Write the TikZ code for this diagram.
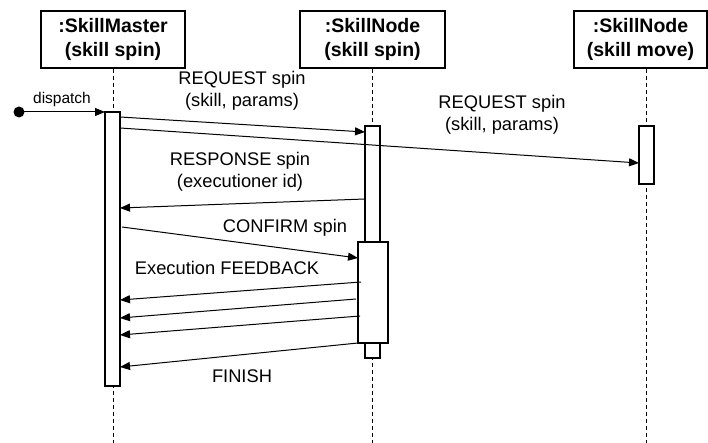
\documentclass[tikz,border=0pt]{standalone}
\usepackage{fontspec}
\setmainfont{Liberation Sans}
\usetikzlibrary{arrows.meta}
\begin{document}
\begin{tikzpicture}[x=1pt,y=-1pt,
  head/.style={draw,line width=1.2pt,inner sep=0pt,align=center,
    font=\bfseries\fontsize{19.5}{24}\selectfont},
  act/.style={draw,fill=white,line width=1.1pt,inner sep=0pt,minimum width=15pt},
  life/.style={dashed,line width=0.9pt,dash pattern=on 4pt off 3pt},
  msg/.style={line width=1pt,-{Triangle[length=10pt,width=8pt]}},
  lbl/.style={align=center,inner sep=0pt,font=\fontsize{18.3}{22}\selectfont}]
\useasboundingbox (0,0) rectangle (708,443);
% headers
\node[head,minimum width=144pt,minimum height=57pt] (hm) at (113,39.5) {:SkillMaster\\(skill spin)};
\node[head,minimum width=145pt,minimum height=57pt] (hs) at (372.5,39.5) {:SkillNode\\(skill spin)};
\node[head,minimum width=133pt,minimum height=57pt] (hv) at (640.5,39.5) {:SkillNode\\(skill move)};
% lifelines
\coordinate (em) at (113,443);
\coordinate (es) at (372.5,443);
\coordinate (ev) at (646.5,443);
\draw[life] (hm.south -| em) -- (em);
\draw[life] (hs.south) -- (es);
\draw[life] (hv.south -| ev) -- (ev);
% activations
\node[act,minimum height=274pt] (am) at (112.5,249) {};
\node[act,minimum height=232pt] (as) at (372.5,242) {};
\node[act,minimum width=30pt,minimum height=101pt] (ax) at (373,292.5) {};
\node[act,minimum height=58pt] (av) at (646.5,155) {};
% dispatch
\fill (19,112) circle (5.5pt) coordinate (start);
\coordinate (d1) at (105,112);
\draw[msg] (start) -- (d1);
\node[inner sep=0pt,font=\fontsize{15.5}{18}\selectfont] (ldisp) at (62,99) {dispatch};
% messages
\coordinate (m1s) at (120,117); \coordinate (m1e) at (365,132);
\draw[msg] (m1s) -- (m1e);
\node[lbl] (l1) at (242,91) {REQUEST spin\\(skill, params)};
\coordinate (m2s) at (120,128); \coordinate (m2e) at (639,163);
\draw[msg] (m2s) -- (m2e);
\node[lbl] (l2) at (502,114.5) {REQUEST spin\\(skill, params)};
\coordinate (m3s) at (365,199); \coordinate (m3e) at (120,208);
\draw[msg] (m3s) -- (m3e);
\node[lbl] (l3) at (240,172) {RESPONSE spin\\(executioner id)};
\coordinate (m4s) at (122,227); \coordinate (m4e) at (358,258);
\draw[msg] (m4s) -- (m4e);
\node[lbl] (l4) at (285,228) {CONFIRM spin};
\node[lbl] (l5) at (227,268) {Execution FEEDBACK};
\coordinate (f1s) at (361,282); \coordinate (f1e) at (120,300);
\coordinate (f2s) at (356,299); \coordinate (f2e) at (120,318);
\coordinate (f3s) at (360,316); \coordinate (f3e) at (120,335);
\draw[msg] (f1s) -- (f1e);
\draw[msg] (f2s) -- (f2e);
\draw[msg] (f3s) -- (f3e);
\coordinate (m6s) at (358,343); \coordinate (m6e) at (120,367);
\draw[msg] (m6s) -- (m6e);
\node[lbl] (l6) at (242,376) {FINISH};
\end{tikzpicture}
\end{document}
